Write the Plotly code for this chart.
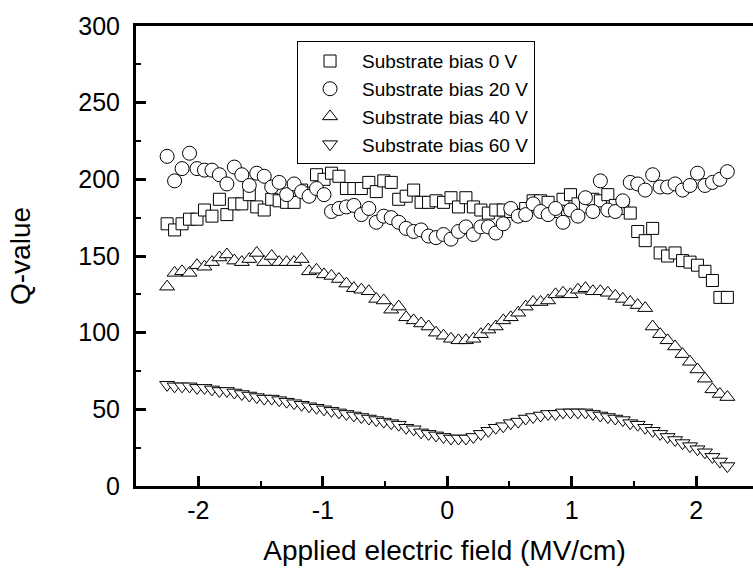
import plotly.graph_objects as go

field = [-2.25, -2.19, -2.13, -2.07, -2.01, -1.95, -1.89, -1.83, -1.77, -1.71,
         -1.65, -1.59, -1.53, -1.47, -1.41, -1.35, -1.29, -1.23, -1.17, -1.11,
         -1.05, -0.99, -0.93, -0.87, -0.81, -0.75, -0.69, -0.63, -0.57, -0.51,
         -0.45, -0.39, -0.33, -0.27, -0.21, -0.15, -0.09, -0.03, 0.03, 0.09,
         0.15, 0.21, 0.27, 0.33, 0.39, 0.45, 0.51, 0.57, 0.63, 0.69,
         0.75, 0.81, 0.87, 0.93, 0.99, 1.05, 1.11, 1.17, 1.23, 1.29,
         1.35, 1.41, 1.47, 1.53, 1.59, 1.65, 1.71, 1.77, 1.83, 1.89,
         1.95, 2.01, 2.07, 2.13, 2.19, 2.25]

q_0v = [171, 167, 171, 174, 174, 180, 176, 187, 177, 184,
        184, 190, 182, 180, 187, 186, 185, 185, 193, 191,
        203, 200, 204, 202, 194, 194, 194, 198, 192, 199,
        198, 187, 189, 193, 185, 185, 186, 185, 188, 182,
        188, 182, 180, 178, 180, 180, 179, 177, 181, 186,
        186, 185, 179, 187, 190, 184, 182, 187, 186, 190,
        183, 181, 178, 166, 160, 168, 152, 150, 152, 147,
        146, 144, 140, 134, 123, 123]

q_20v = [215, 199, 207, 217, 207, 206, 206, 203, 197, 208,
         203, 196, 204, 202, 195, 198, 190, 197, 192, 189,
         194, 190, 179, 181, 182, 183, 177, 181, 172, 176,
         175, 172, 168, 166, 167, 163, 162, 164, 161, 166,
         169, 164, 169, 169, 165, 171, 181, 176, 177, 184,
         179, 177, 181, 172, 180, 176, 188, 179, 199, 180,
         179, 186, 198, 197, 193, 203, 195, 195, 197, 193,
         196, 204, 196, 198, 200, 205]

q_40v = [130, 139, 140, 139, 144, 143, 146, 149, 151, 147,
         146, 148, 152, 146, 150, 146, 146, 146, 148, 140,
         141, 138, 137, 135, 132, 129, 128, 127, 122, 121,
         115, 117, 110, 108, 106, 104, 100, 98, 96, 95,
         95, 96, 99, 102, 104, 108, 110, 113, 117, 120,
         120, 121, 125, 126, 125, 128, 129, 127, 127, 126,
         124, 122, 120, 118, 116, 104, 99, 95, 91, 86,
         81, 76, 70, 63, 60, 58]

q_60v = [66, 65, 65, 65, 64, 64, 63, 62, 62, 61,
         60, 59, 58, 57, 57, 56, 55, 54, 53, 52,
         51, 50, 49, 48, 47, 46, 45, 44, 43, 42,
         41, 40, 38, 37, 35, 34, 33, 32, 31, 31,
         31, 32, 34, 36, 38, 39, 41, 42, 44, 45,
         46, 47, 47, 48, 48, 48, 48, 47, 46, 45,
         44, 43, 41, 40, 38, 36, 34, 32, 30, 28,
         26, 24, 22, 19, 16, 13]

series_names = ["Substrate bias 0 V", "Substrate bias 20 V",
                "Substrate bias 40 V", "Substrate bias 60 V"]
series_values = [q_0v, q_20v, q_40v, q_60v]
symbols = ["square", "circle", "triangle-up", "triangle-down"]
sizes = [12, 14, 13, 13]

x_ticks = [-2, -1, 0, 1, 2]
y_ticks = [0, 50, 100, 150, 200, 250, 300]

fig = go.Figure()
for name, vals, sym, sz in zip(series_names, series_values, symbols, sizes):
    fig.add_trace(go.Scatter(
        x=field, y=vals, mode="markers", name=name,
        marker=dict(symbol=sym, size=sz, color="white",
                    line=dict(color="black", width=1)),
    ))

font_family = "Liberation Sans, Arial, sans-serif"
fig.update_layout(
    width=753, height=574,
    margin=dict(l=136, r=0, t=26, b=88),
    paper_bgcolor="white", plot_bgcolor="white",
    font=dict(family=font_family, color="black"),
    showlegend=True,
    legend=dict(
        x=0.261, y=0.967, xanchor="left", yanchor="top",
        bordercolor="black", borderwidth=1, bgcolor="white",
        font=dict(size=19, family=font_family),
        itemwidth=54, tracegroupgap=0,
    ),
)
fig.update_xaxes(
    range=[-2.5, 2.456], tickvals=x_ticks, ticktext=[str(v) for v in x_ticks],
    showgrid=False, zeroline=False,
    showline=True, linecolor="black", linewidth=3, mirror=True,
    ticks="inside", ticklen=10, tickwidth=3, tickcolor="black",
    minor=dict(ticks="inside", dtick=0.5, ticklen=5, tickwidth=2, tickcolor="black"),
    tickfont=dict(size=25, family=font_family),
    ticklabelstandoff=0,
    title=dict(text="Applied electric field (MV/cm)", font=dict(size=28, family=font_family), standoff=18),
)
fig.update_yaxes(
    range=[0, 300], tickvals=y_ticks, ticktext=[str(v) for v in y_ticks],
    showgrid=False, zeroline=False,
    showline=True, linecolor="black", linewidth=3, mirror=False,
    ticks="inside", ticklen=10, tickwidth=3, tickcolor="black",
    minor=dict(ticks="inside", dtick=25, ticklen=5, tickwidth=2, tickcolor="black"),
    tickfont=dict(size=25, family=font_family),
    ticklabelstandoff=8,
    title=dict(text="Q-value", font=dict(size=28, family=font_family), standoff=40),
)

fig.write_html("out.html")
